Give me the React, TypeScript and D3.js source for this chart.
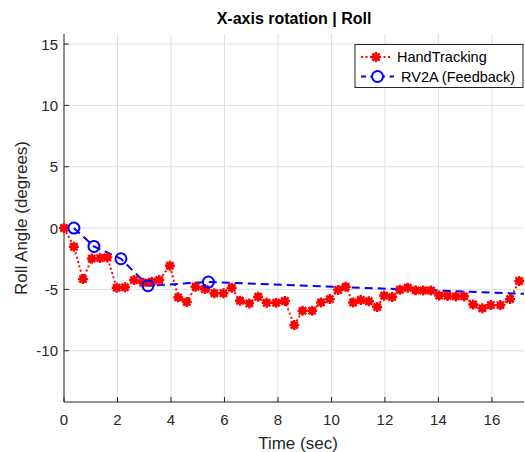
import React from 'react'
import * as d3 from 'd3'

// HandTracking samples (sec, degrees)
const handTime = [0, 0.37, 0.71, 1.04, 1.35, 1.62, 1.97, 2.28, 2.62, 2.96, 3.28, 3.56, 3.96, 4.27, 4.59, 4.92, 5.27, 5.62, 5.96, 6.27, 6.58, 6.93, 7.26, 7.58, 7.93, 8.26, 8.61, 8.92, 9.28, 9.61, 9.94, 10.25, 10.53, 10.81, 11.1, 11.4, 11.71, 11.97, 12.27, 12.56, 12.85, 13.15, 13.43, 13.72, 14.03, 14.34, 14.65, 14.96, 15.3, 15.64, 15.96, 16.32, 16.68, 17.02]
const handRoll = [0, -1.52, -4.16, -2.49, -2.45, -2.39, -4.87, -4.83, -4.24, -4.46, -4.38, -4.24, -3.07, -5.65, -6.03, -4.78, -4.97, -5.32, -5.32, -4.87, -5.92, -6.14, -5.6, -6.09, -6.09, -5.95, -7.91, -6.74, -6.74, -6.06, -5.79, -5.05, -4.78, -6.07, -5.87, -5.97, -6.44, -5.52, -5.62, -5.03, -4.87, -5.08, -5.09, -5.09, -5.5, -5.53, -5.57, -5.57, -6.23, -6.54, -6.28, -6.28, -5.79, -4.32]

// RV2A feedback samples
const robotTime = [0.37, 1.12, 2.13, 3.14, 5.4, 18.5]
const robotRoll = [0, -1.5, -2.5, -4.7, -4.4, -5.47]

const xTicks = [0, 2, 4, 6, 8, 10, 12, 14, 16]
const yTicks = [-10, -5, 0, 5, 10, 15]
const legendLabels = ['HandTracking', 'RV2A (Feedback)']

const FONT = '"Liberation Sans", Arial, Helvetica, sans-serif'
const INK = '#262626'
const RED = '#ff0000'
const BLUE = '#0000ff'

const star = (x: number, y: number, r = 5) => {
  const d = r * 0.72
  return `M${x - r},${y}H${x + r}M${x},${y - r}V${y + r}M${x - d},${y - d}L${x + d},${y + d}M${x - d},${y + d}L${x + d},${y - d}`
}

const Marker = ({ x, y }: { x: number; y: number }) => (
  <g>
    <circle cx={x} cy={y} r={3.6} fill={RED} />
    <path d={star(x, y)} stroke={RED} strokeWidth={2.4} fill="none" />
  </g>
)

export default function App() {
  const width = 525
  const height = 452
  const left = 64, right = 524, top = 34, bottom = 402

  const x = d3.scaleLinear().domain([0, 17.2]).range([left, right])
  const y = d3.scaleLinear().domain([-14.18, 15.82]).range([bottom, top])

  const hand = handTime.map((t, i) => [t, handRoll[i]] as [number, number])
  const robot = robotTime.map((t, i) => [t, robotRoll[i]] as [number, number])

  const line = d3.line<[number, number]>().x((d) => x(d[0])).y((d) => y(d[1]))

  return (
    <svg width={width} height={height} style={{ position: 'absolute', left: 0, top: 0 }} fontFamily={FONT}>
      <defs>
        <clipPath id="plot">
          <rect x={left} y={top} width={right - left} height={bottom - top} />
        </clipPath>
      </defs>
      <rect width={width} height={height} fill="#fff" />

      {/* grid */}
      {xTicks.map((t) => (
        <line key={'gx' + t} x1={x(t)} x2={x(t)} y1={top} y2={bottom} stroke="#dfdfdf" strokeWidth={1} />
      ))}
      {yTicks.map((t) => (
        <line key={'gy' + t} x1={left} x2={right} y1={y(t)} y2={y(t)} stroke="#dfdfdf" strokeWidth={1} />
      ))}

      {/* axes */}
      <line x1={left} x2={left} y1={top} y2={bottom} stroke={INK} strokeWidth={1} />
      <line x1={left} x2={right} y1={bottom} y2={bottom} stroke={INK} strokeWidth={1} />
      {xTicks.map((t) => (
        <g key={'tx' + t}>
          <line x1={x(t)} x2={x(t)} y1={bottom} y2={bottom - 5} stroke={INK} />
          <text x={x(t)} y={bottom + 23} fontSize={15} fill={INK} textAnchor="middle">{t}</text>
        </g>
      ))}
      {yTicks.map((t) => (
        <g key={'ty' + t}>
          <line x1={left} x2={left + 5} y1={y(t)} y2={y(t)} stroke={INK} />
          <text x={left - 6} y={y(t) + 5.5} fontSize={15} fill={INK} textAnchor="end">{t}</text>
        </g>
      ))}

      <text x={(left + right) / 2} y={24} fontSize={16} fontWeight="bold" textAnchor="middle" fill="#000">X-axis rotation | Roll</text>
      <text x={298} y={449} fontSize={17} textAnchor="middle" fill={INK}>Time (sec)</text>
      <text transform={`translate(27,${(top + bottom) / 2}) rotate(-90)`} fontSize={17} textAnchor="middle" fill={INK}>Roll Angle (degrees)</text>

      {/* series */}
      <g clipPath="url(#plot)">
        <path d={line(hand) ?? ''} fill="none" stroke={RED} strokeWidth={2} strokeDasharray="2 2.5" />
        <path d={line(robot) ?? ''} fill="none" stroke={BLUE} strokeWidth={2} strokeDasharray="8 5" />
      </g>
      {hand.map((d, i) => (
        <Marker key={'h' + i} x={x(d[0])} y={y(d[1])} />
      ))}
      {robot.filter((d) => d[0] <= 17.2).map((d, i) => (
        <circle key={'r' + i} cx={x(d[0])} cy={y(d[1])} r={5.5} fill="none" stroke={BLUE} strokeWidth={2} />
      ))}

      {/* legend */}
      <rect x={355} y={44.5} width={168} height={43} fill="#fff" stroke={INK} strokeWidth={1} />
      <line x1={361} x2={392} y1={57} y2={57} stroke={RED} strokeWidth={2} strokeDasharray="2 2.5" />
      <Marker x={376} y={57} />
      <text x={397} y={62} fontSize={14.5} fill="#000">{legendLabels[0]}</text>
      <line x1={361} x2={394} y1={76.5} y2={76.5} stroke={BLUE} strokeWidth={2} strokeDasharray="5 4.5" />
      <circle cx={377.5} cy={76.5} r={5.5} fill="#fff" stroke={BLUE} strokeWidth={2} />
      <text x={401} y={82} fontSize={14.5} fill="#000">{legendLabels[1]}</text>
    </svg>
  )
}
